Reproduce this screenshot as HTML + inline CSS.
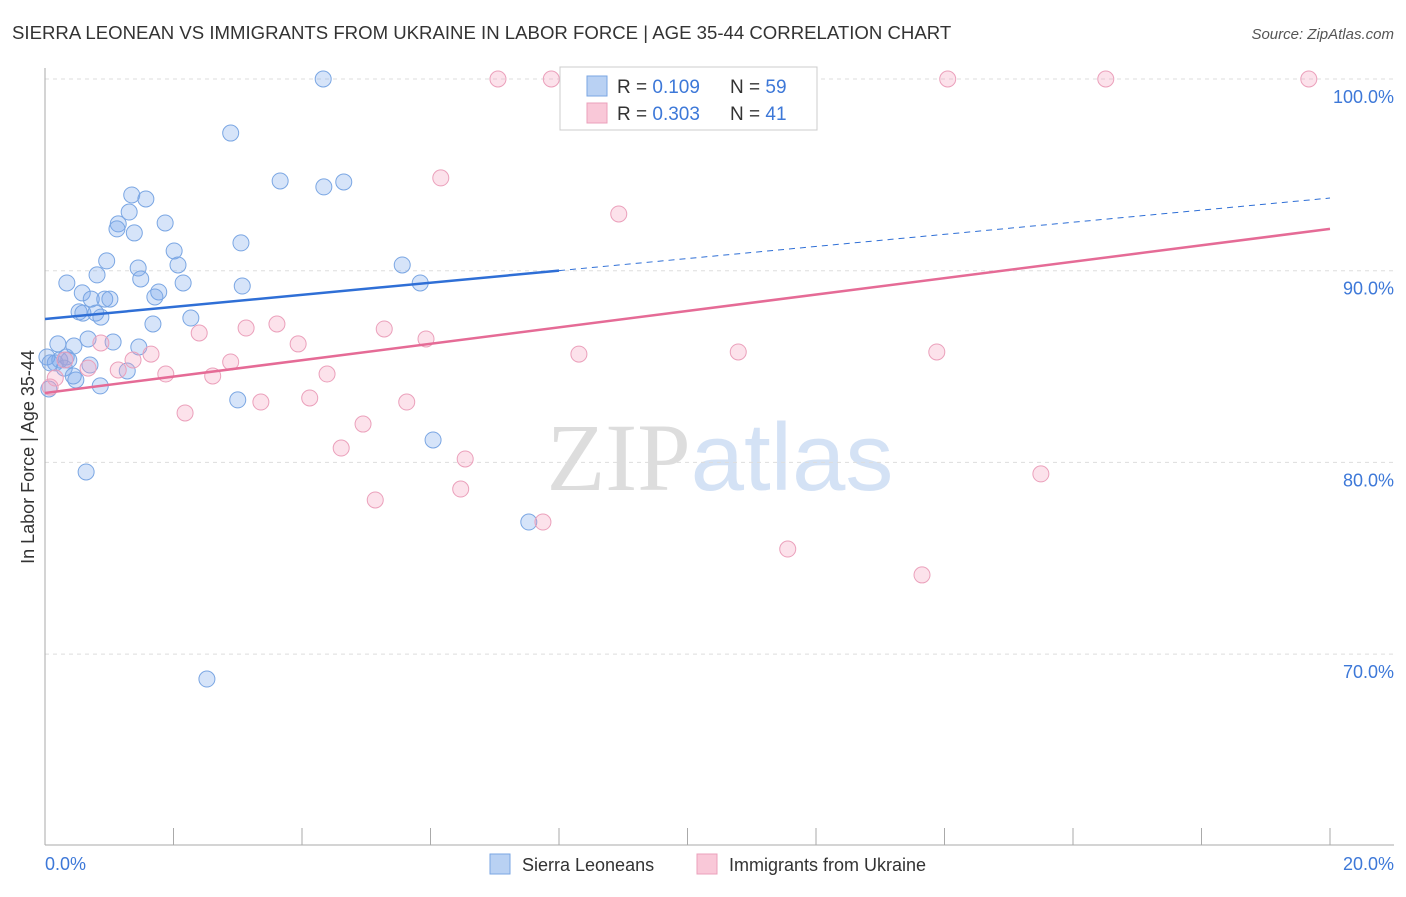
<!DOCTYPE html>
<html><head><meta charset="utf-8"><style>
body{margin:0;background:#fff;font-family:"Liberation Sans",sans-serif;}
svg text{font-family:"Liberation Sans",sans-serif;}
</style></head><body>
<svg id="chart" width="1406" height="892" xmlns="http://www.w3.org/2000/svg">
<text x="12" y="39" font-size="18.6" fill="#333">SIERRA LEONEAN VS IMMIGRANTS FROM UKRAINE IN LABOR FORCE | AGE 35-44 CORRELATION CHART</text>
<text x="1394" y="39" font-size="15" fill="#555" text-anchor="end" font-style="italic">Source: ZipAtlas.com</text>
<text x="720" y="490" font-size="96" text-anchor="middle"><tspan fill="#ddd" font-family="Liberation Serif">ZIP</tspan><tspan fill="#d4e2f5">atlas</tspan></text>
<g id="grid"></g>
<g id="axes"></g>
<text transform="translate(34,457) rotate(-90)" font-size="18" fill="#333" text-anchor="middle">In Labor Force | Age 35-44</text>
<g id="marks"></g>
<g>
<rect x="560" y="67" width="257" height="63" fill="#fff" stroke="#ccc"/>
<rect x="587" y="76" width="20" height="20" fill="#b9d1f3" stroke="#7aa6e3"/>
<rect x="587" y="103" width="20" height="20" fill="#f9c8d8" stroke="#eba0bb"/>
<text x="617" y="93" font-size="19" fill="#333">R = <tspan fill="#3d78d8">0.109</tspan></text>
<text x="730" y="93" font-size="19" fill="#333">N = <tspan fill="#3d78d8">59</tspan></text>
<text x="617" y="120" font-size="19" fill="#333">R = <tspan fill="#3d78d8">0.303</tspan></text>
<text x="730" y="120" font-size="19" fill="#333">N = <tspan fill="#3d78d8"> 41</tspan></text>
</g>
<g>
<rect x="490" y="854" width="20" height="20" fill="#b9d1f3" stroke="#7aa6e3"/>
<text x="522" y="871" font-size="18" fill="#333">Sierra Leoneans</text>
<rect x="697" y="854" width="20" height="20" fill="#f9c8d8" stroke="#eba0bb"/>
<text x="729" y="871" font-size="18" fill="#333">Immigrants from Ukraine</text>
</g>
</svg>
<script>
const blueX=[4.33,2.89,3.66,4.34,4.65,1.35,1.57,1.31,1.14,1.12,1.39,1.87,3.05,2.01,0.96,2.07,5.56,0.81,1.45,1.49,0.34,2.15,3.07,5.84,0.58,1.77,1.71,0.72,0.93,1.01,0.53,0.59,0.79,0.87,2.27,1.68,0.67,0.20,1.06,1.46,0.45,0.03,0.33,0.16,0.23,0.37,0.08,0.70,0.30,1.28,0.48,0.44,0.86,0.06,3.00,6.04,0.64,7.53,2.52];
const blueY=[100,97.18,94.68,94.37,94.63,93.95,93.74,93.06,92.44,92.18,91.97,92.49,91.45,91.03,90.51,90.30,90.30,89.78,90.14,89.57,89.36,89.36,89.20,89.36,88.84,88.89,88.63,88.52,88.52,88.52,87.85,87.79,87.79,87.58,87.53,87.22,86.44,86.18,86.28,86.02,86.07,85.50,85.50,85.19,85.34,85.34,85.19,85.08,84.92,84.77,84.30,84.51,83.99,83.83,83.26,81.17,79.50,76.89,68.70];
const pinkX=[7.05,7.88,14.05,16.51,19.67,6.16,8.93,2.40,3.13,3.61,5.28,5.93,3.94,0.87,1.65,1.37,2.89,10.79,13.88,8.31,0.31,0.67,1.14,1.88,2.61,4.39,0.16,4.12,3.36,5.63,2.18,4.95,4.61,6.54,6.47,5.14,7.75,15.50,11.56,13.65,0.08];
const pinkY=[100,100,100,100,100,94.84,92.96,86.75,87.01,87.22,86.96,86.44,86.18,86.23,85.65,85.34,85.24,85.76,85.76,85.65,85.34,84.92,84.82,84.61,84.51,84.61,84.40,83.36,83.15,83.15,82.58,82.00,80.75,80.18,78.61,78.04,76.89,79.40,75.48,74.13,83.93];
const blueTrend=[87.48,93.79];
const pinkTrend=[83.62,92.18];
const yTicks=[100,90,80,70];
const yTickLabels=["100.0%","90.0%","80.0%","70.0%"];
const xTicks=[0,2,4,6,8,10,12,14,16,18,20];
const NS="http://www.w3.org/2000/svg";
function sx(v){return 45+v*64.25;}
function sy(v){return 79+(100-v)*19.17;}
function mk(tag,attrs,parent){const e=document.createElementNS(NS,tag);for(const k in attrs)e.setAttribute(k,attrs[k]);document.getElementById(parent).appendChild(e);return e;}
yTicks.forEach((t,i)=>{
 let l=mk('line',{x1:45,x2:1394,y1:sy(t),y2:sy(t),stroke:'#ddd','stroke-dasharray':'4,4'},'grid');
 
 
 let tx=mk('text',{x:1394,y:sy(t)+24,'font-size':18,fill:'#3d78d8','text-anchor':'end'},'grid');
 tx.textContent=yTickLabels[i];
 
 
});
let ax=mk('line',{x1:45,x2:45,y1:68,y2:845,stroke:'#aaa'},'axes');


let bx=mk('line',{x1:45,x2:1394,y1:845,y2:845,stroke:'#aaa'},'axes');


xTicks.forEach(t=>{
 let l=mk('line',{x1:sx(t),x2:sx(t),y1:828,y2:845,stroke:'#aaa'},'axes');
 
 
});
let x0=mk('text',{x:45,y:870,'font-size':18,fill:'#3d78d8'},'axes');x0.textContent='0.0%';


let x1=mk('text',{x:1394,y:870,'font-size':18,fill:'#3d78d8','text-anchor':'end'},'axes');x1.textContent='20.0%';


function pts(X,Y,fill,stroke,name){X.forEach((x,i)=>{
 let c=mk('circle',{cx:sx(x),cy:sy(Y[i]),r:8,fill:fill,stroke:stroke,'stroke-width':1},'marks');
 
 
});}
pts(blueX,blueY,'rgba(120,165,235,0.3)','#7aa6e3','sierra-point');
pts(pinkX,pinkY,'rgba(245,160,190,0.3)','#eba0bb','ukraine-point');
function ty(tr,x){return tr[0]+(tr[1]-tr[0])*x/20;}
let bl=mk('line',{x1:sx(0),y1:sy(ty(blueTrend,0)),x2:sx(8),y2:sy(ty(blueTrend,8)),stroke:'#2f6fd6','stroke-width':2.5},'marks');


let bd=mk('line',{x1:sx(8),y1:sy(ty(blueTrend,8)),x2:sx(20),y2:sy(ty(blueTrend,20)),stroke:'#2f6fd6','stroke-width':1,'stroke-dasharray':'6,5'},'marks');


let pl=mk('line',{x1:sx(0),y1:sy(ty(pinkTrend,0)),x2:sx(20),y2:sy(ty(pinkTrend,20)),stroke:'#e56b96','stroke-width':2.5},'marks');


</script>
</body></html>
